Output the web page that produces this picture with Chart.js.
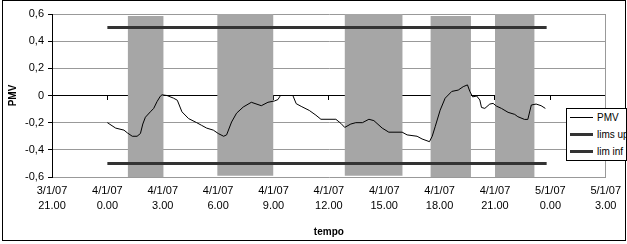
<!DOCTYPE html>
<html>
<head>
<meta charset="utf-8">
<script src="https://cdn.jsdelivr.net/npm/chart.js@4.4.1/dist/chart.umd.min.js"></script>
<style>
  html, body { margin: 0; padding: 0; background: #fff; overflow: hidden; }
  #wrap { position: relative; width: 627px; height: 244px; overflow: hidden; font-family: "Liberation Sans", Arial, sans-serif; }
  #c { position: absolute; left: 0; top: 0; }
  #frame { position: absolute; left: 2px; top: 0; width: 622px; height: 239px; border: 1px solid #000; pointer-events: none; }
  #legend { position: absolute; left: 566px; top: 108px; width: 59px; height: 51px; border: 1px solid #000; background: #fff; font-size: 10px; color: #000; }
  #legend .row { display: flex; align-items: center; height: 17px; white-space: nowrap; }
  #legend .sw { flex: none; margin-left: 3px; width: 23px; margin-right: 4px; }
</style>
</head>
<body>
<div id="wrap">
  <canvas id="c" width="627" height="244"></canvas>
  <div id="frame"></div>
  <div id="legend"></div>
</div>
<script>
// x in hours from 4/1/07 0.00
const xTicks = [-3, 0, 3, 6, 9, 12, 15, 18, 21, 24, 27];
const xTickLabels = [
  ["3/1/07", "21.00"], ["4/1/07", "0.00"], ["4/1/07", "3.00"], ["4/1/07", "6.00"],
  ["4/1/07", "9.00"], ["4/1/07", "12.00"], ["4/1/07", "15.00"], ["4/1/07", "18.00"],
  ["4/1/07", "21.00"], ["5/1/07", "0.00"], ["5/1/07", "3.00"]
];

const times = [0.00, 0.45, 0.90, 1.08, 1.35, 1.61, 1.79, 1.92, 2.06, 2.33,
  2.51, 2.69, 2.87, 2.96, 3.23, 3.59, 3.79, 4.04, 4.40, 4.84,
  5.11, 5.38, 5.74, 6.01, 6.30, 6.46, 6.73, 7.00, 7.36, 7.80,
  8.34, 8.70, 9.06, 9.24, 9.38, 9.69, 10.05, 10.23, 10.50, 10.94,
  11.30, 11.57, 12.38, 12.65, 12.86, 13.19, 13.46, 13.82, 14.17, 14.44,
  14.89, 15.25, 15.97, 16.24, 16.78, 17.05, 17.45, 17.60, 17.76, 18.03,
  18.30, 18.66, 19.01, 19.28, 19.51, 19.64, 19.79, 20.01, 20.18, 20.27,
  20.45, 20.72, 20.90, 21.08, 21.35, 21.71, 22.07, 22.24, 22.60, 22.78,
  22.97, 23.23, 23.50, 23.73];
const pmv = [-0.20, -0.24, -0.255, -0.275, -0.30, -0.30, -0.28, -0.21, -0.16, -0.12,
  -0.095, -0.045, -0.005, 0.005, 0.00, -0.02, -0.035, -0.12, -0.17, -0.20,
  -0.22, -0.24, -0.255, -0.28, -0.30, -0.29, -0.195, -0.13, -0.085, -0.05,
  -0.075, -0.05, -0.04, -0.03, 0.00, 0.00, 0.00, -0.06, -0.08, -0.11,
  -0.145, -0.175, -0.175, -0.205, -0.235, -0.21, -0.20, -0.20, -0.175, -0.185,
  -0.24, -0.27, -0.27, -0.29, -0.30, -0.32, -0.34, -0.30, -0.23, -0.108,
  -0.02, 0.03, 0.04, 0.065, 0.078, 0.03, -0.01, -0.004, -0.033, -0.088,
  -0.095, -0.063, -0.058, -0.078, -0.095, -0.124, -0.139, -0.156, -0.176, -0.176,
  -0.07, -0.063, -0.075, -0.095];

const limTimes = [0, 23.8];
const limUp = [0.5, 0.5];
const limInf = [-0.5, -0.5];

// grey periods
const bandStart = [1.1, 5.95, 12.85, 17.5, 21.0];
const bandEnd = [3.05, 9.0, 16.0, 19.7, 23.15];
const bandTop = [0.585, 0.6, 0.6, 0.585, 0.61];
const bandBottom = [-0.6, -0.59, -0.59, -0.6, -0.6];

function bandPoints(vals) {
  const pts = [];
  vals.forEach((v, i) => {
    pts.push({ x: bandStart[i], y: v }, { x: bandEnd[i], y: v });
    if (i < vals.length - 1) pts.push({ x: bandEnd[i], y: null });
  });
  return pts;
}
const pairs = (xs, ys) => xs.map((x, i) => ({ x: x, y: ys[i] }));

const setTicks = s => { s.ticks = xTicks.map(v => ({ value: v })); };
const fmt = v => {
  const r = Math.round(v * 10) / 10;
  return Math.abs(r) < 1e-9 ? "0" : r.toFixed(1).replace(".", ",");
};

Chart.defaults.font.family = '"Liberation Sans", Arial, sans-serif';
Chart.defaults.color = "#000";

const chart = new Chart(document.getElementById("c"), {
  type: "line",
  data: {
    datasets: [
      { label: "PMV", data: pairs(times, pmv), borderColor: "#000", borderWidth: 1, pointRadius: 0, legend: true },
      { label: "lims up", data: pairs(limTimes, limUp), borderColor: "#333", borderWidth: 3, pointRadius: 0, legend: true },
      { label: "lim inf", data: pairs(limTimes, limInf), borderColor: "#333", borderWidth: 3, pointRadius: 0, legend: true },
      { label: "top", data: bandPoints(bandTop), borderWidth: 0, borderColor: "rgba(0,0,0,0)", pointRadius: 0,
        backgroundColor: "#a6a6a6", fill: "+1", spanGaps: false },
      { label: "bottom", data: bandPoints(bandBottom), borderWidth: 0, borderColor: "rgba(0,0,0,0)", pointRadius: 0, spanGaps: false }
    ]
  },
  options: {
    responsive: false,
    animation: false,
    events: [],
    layout: { padding: { left: 0, right: 15, top: 14, bottom: 4 } },
    plugins: { legend: { display: false }, tooltip: { enabled: false } },
    scales: {
      x: {
        type: "linear", min: -3, max: 27,
        afterBuildTicks: setTicks,
        ticks: { callback: (v, i) => xTickLabels[i], font: { size: 11, lineHeight: "15px" }, padding: 6, maxRotation: 0, autoSkip: false },
        grid: { display: false, drawTicks: false },
        border: { display: false },
        title: { display: true, text: "tempo", font: { size: 10, weight: "bold" }, padding: { top: 0, bottom: 2 } },
        afterFit: s => { s.height = 63; }
      },
      x2: {
        type: "linear", position: { y: 0 }, min: -3, max: 27, z: 1,
        afterBuildTicks: setTicks,
        ticks: { display: false },
        grid: { drawOnChartArea: false, drawTicks: true, tickLength: 4, tickColor: "#000" },
        border: { color: "#000", width: 1 }
      },
      y: {
        min: -0.6, max: 0.6, z: 1,
        ticks: { stepSize: 0.2, padding: 4, font: { size: 11 }, callback: v => fmt(v) },
        grid: {
          color: c => Math.abs(c.tick.value) < 1e-9 ? "rgba(0,0,0,0)" : "#999",
          tickColor: "#000", tickLength: 4
        },
        border: { color: "#000" },
        title: { display: true, text: "PMV", font: { size: 10, weight: "bold" }, padding: { top: 7, bottom: 0 } },
        afterFit: s => { s.width = 52; }
      },
      yr: {
        position: "right", min: -0.6, max: 0.6,
        ticks: { display: false },
        grid: { display: false, drawTicks: false },
        border: { color: "#999" },
        afterFit: s => { s.width = 0; }
      }
    }
  }
});

// legend box, built from the chart's datasets
const legend = document.getElementById("legend");
chart.data.datasets.filter(d => d.legend).forEach(d => {
  const row = document.createElement("div");
  row.className = "row";
  const sw = document.createElement("div");
  sw.className = "sw";
  sw.style.borderTop = d.borderWidth + "px solid " + d.borderColor;
  const txt = document.createElement("span");
  txt.textContent = d.label;
  row.appendChild(sw);
  row.appendChild(txt);
  legend.appendChild(row);
});
</script>
</body>
</html>
